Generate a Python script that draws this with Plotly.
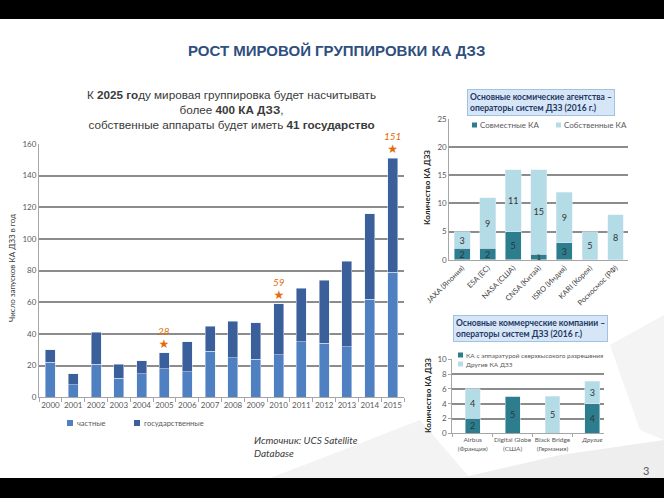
import plotly.graph_objects as go

# ---------------- data ----------------
years = [str(y) for y in range(2000, 2016)]
private_sats = [22, 8, 21, 12, 15, 18, 16, 29, 25, 24, 27, 35, 34, 32, 62, 79]
gov_sats = [8, 7, 20, 9, 8, 10, 19, 16, 23, 23, 32, 34, 40, 54, 54, 72]
highlight_years = ["2005", "2010", "2015"]

agencies = ["JAXA (Япония)", "ESA (ЕС)", "NASA (США)", "CNSA (Китай)",
            "ISRO (Индия)", "KARI (Корея)", "Роскосмос (РФ)"]
agency_joint = [2, 2, 5, 1, 3, 0, 0]
agency_own = [3, 9, 11, 15, 9, 5, 8]

companies = ["Airbus<br>(Франция)", "Digital Globe<br>(США)",
             "Black Bridge<br>(Германия)", "<i>Другие</i>"]
company_vhr = [2, 5, 0, 4]
company_other = [4, 0, 5, 3]

W, H = 664, 498
def px(x): return x / W
def py(y): return 1 - y / H

C_PRIV = "#4F81C2"
C_GOV = "#3A5F9B"
C_TEAL = "#2C7E8E"
C_AQUA = "#B4DCE6"
ORANGE = "#E36C0A"
FONT = "Lato"

fig = go.Figure()

def lbl(vals):
    return [str(v) if v else "" for v in vals]

in_font = dict(color="#333333", size=9, family=FONT)
bar_txt = dict(textposition="inside", insidetextanchor="middle", textangle=0,
               textfont=in_font, constraintext="none")

# ---- main chart ----
fig.add_trace(go.Bar(x=years, y=private_sats, name="частные", marker_color=C_PRIV,
                     width=0.44, xaxis="x", yaxis="y", showlegend=False))
fig.add_trace(go.Bar(x=years, y=gov_sats, name="государственные", marker_color=C_GOV,
                     width=0.44, xaxis="x", yaxis="y", showlegend=False))

# ---- agencies chart ----
fig.add_trace(go.Bar(x=agencies, y=agency_joint, name="Совместные КА", marker_color=C_TEAL,
                     width=0.62, xaxis="x2", yaxis="y2", showlegend=False,
                     text=lbl(agency_joint), **bar_txt))
fig.add_trace(go.Bar(x=agencies, y=agency_own, name="Собственные КА", marker_color=C_AQUA,
                     width=0.62, xaxis="x2", yaxis="y2", showlegend=False,
                     text=lbl(agency_own), **bar_txt))

# ---- companies chart ----
fig.add_trace(go.Bar(x=companies, y=company_vhr, name="КА с аппаратурой сверхвысокого разрешения",
                     marker_color=C_TEAL, width=0.375, xaxis="x3", yaxis="y3", showlegend=False,
                     text=lbl(company_vhr), **bar_txt))
fig.add_trace(go.Bar(x=companies, y=company_other, name="Другие КА ДЗЗ",
                     marker_color=C_AQUA, width=0.375, xaxis="x3", yaxis="y3", showlegend=False,
                     text=lbl(company_other), **bar_txt))

totals = [p + g for p, g in zip(private_sats, gov_sats)]
annotations = []
for yr in highlight_years:
    i = years.index(yr)
    t = totals[i]
    annotations.append(dict(
        x=i, y=t, xref="x", yref="y", showarrow=False, yanchor="bottom", yshift=0,
        text=f"<i>{t}</i><br><span style='font-size:12px;font-family:DejaVu Sans'>★</span>",
        font=dict(color=ORANGE, size=10, family=FONT)))

def ptxt(x, y, text, size, color="#595959", anchor="left", **kw):
    return dict(x=px(x), y=py(y), xref="paper", yref="paper", showarrow=False,
                xanchor=anchor, yanchor="middle", text=text,
                font=dict(size=size, color=color, family=kw.pop("family", FONT)), **kw)

annotations += [
    ptxt(336, 50, "<b>РОСТ МИРОВОЙ ГРУППИРОВКИ КА ДЗЗ</b>", 15, "#2F4F80", "center",
         family="Liberation Sans"),
    ptxt(231, 110, "К <b>2025 го</b>ду мировая группировка будет насчитывать<br>"
                   "более <b>400 КА ДЗЗ</b>,<br>"
                   "собственные аппараты будет иметь <b>41 государство</b>",
         11.7, "#3A3A3A", "center", family="Liberation Sans", align="center"),
    ptxt(12, 268, "Число запусков КА ДЗЗ в год", 8, "#404040", "center", textangle=-90),
    ptxt(252, 446, "<i>Источник: UCS Satellite<br>Database</i>", 10, "#404040", align="left"),
    ptxt(467, 102, "<b>Основные космические агентства –<br>операторы систем ДЗЗ (2016 г.)</b>",
         8.5, "#1F3864", align="left", bgcolor="#D6E6F6", bordercolor="#9DC3E6",
         borderwidth=1, borderpad=2),
    ptxt(453, 328, "<b>Основные коммерческие компании –<br>операторы систем ДЗЗ (2016 г.)</b>",
         8.5, "#1F3864", align="left", bgcolor="#D6E6F6", bordercolor="#9DC3E6",
         borderwidth=1, borderpad=2),
    ptxt(427, 188, "<b>Количество КА ДЗЗ</b>", 8, "#262626", "center", textangle=-90),
    ptxt(428, 396, "<b>Количество КА ДЗЗ</b>", 8, "#262626", "center", textangle=-90),
    ptxt(646, 470, "3", 11, "#595959", "center"),
    # manual legends
    ptxt(75, 423, "частные", 7.5),
    ptxt(142, 423, "государственные", 7.5),
    ptxt(478, 125, "Совместные КА", 8),
    ptxt(562, 125, "Собственные КА", 8),
    ptxt(464, 355, "КА с аппаратурой сверхвысокого разрешения", 6.5),
    ptxt(464, 364, "Другие КА ДЗЗ", 6.5),
]

def sq(x, y, s, color):
    return dict(type="rect", xref="paper", yref="paper", x0=px(x), x1=px(x + s),
                y0=py(y + s / 2), y1=py(y - s / 2), fillcolor=color, line_width=0)

shapes = [
    # faint decorative background
    dict(type="path", xref="paper", yref="paper", layer="below",
         path=f"M {px(270)} {py(478)} L {px(330)} {py(455)} L {px(420)} {py(420)} L {px(470)} {py(478)} Z",
         fillcolor="#F3F3F3", line_width=0),
    dict(type="path", xref="paper", yref="paper", layer="below",
         path=f"M {px(460)} {py(478)} L {px(560)} {py(455)} L {px(664)} {py(440)} L {px(664)} {py(478)} Z",
         fillcolor="#EEEEEE", line_width=0),
    dict(type="path", xref="paper", yref="paper", layer="below",
         path=f"M {px(610)} {py(345)} L {px(664)} {py(315)} L {px(664)} {py(440)} L {px(640)} {py(430)} Z",
         fillcolor="#F4F4F4", line_width=0),
    # legend swatches
    sq(67, 423, 6, C_PRIV), sq(134, 423, 6, C_GOV),
    sq(472, 125, 5, C_TEAL), sq(556, 125, 5, C_AQUA),
    sq(458, 355, 5, C_TEAL), sq(458, 364, 5, C_AQUA),
    # black letterbox bars
    dict(type="rect", xref="paper", yref="paper", x0=0, x1=1, y0=py(0), y1=py(19),
         fillcolor="black", line_width=0, layer="above"),
    dict(type="rect", xref="paper", yref="paper", x0=0, x1=1, y0=py(478), y1=py(498),
         fillcolor="black", line_width=0, layer="above"),
]

tick_font = dict(size=8, color="#595959", family=FONT)
GRID = "#8C8C8C"

fig.update_layout(
    width=W, height=H, margin=dict(l=0, r=0, t=0, b=0, autoexpand=False),
    paper_bgcolor="white", plot_bgcolor="rgba(0,0,0,0)",
    barmode="stack", showlegend=False,
    uniformtext=dict(minsize=8, mode="show"),
    font=dict(family=FONT),
    annotations=annotations, shapes=shapes,
    xaxis=dict(domain=[px(39), px(404)], type="category", tickfont=tick_font, tickangle=0,
               showline=True, linecolor="#A6A6A6", linewidth=1, ticks="outside",
               tickson="boundaries", ticklen=4, tickcolor="#A6A6A6", anchor="y",
               automargin=False, range=[-0.5, 15.5]),
    yaxis=dict(domain=[py(397.3), py(144)], range=[0, 160], dtick=20, tickfont=tick_font,
               showgrid=True, gridcolor=GRID, gridwidth=1.5, showline=True,
               linecolor="#A6A6A6", zeroline=False, anchor="x", automargin=False),
    xaxis2=dict(domain=[px(449.3), px(628.3)], type="category", tickangle=-45,
                tickfont=dict(size=7.5, color="#404040", family=FONT), anchor="y2",
                showline=True, linecolor="#A6A6A6", automargin=False, range=[-0.5, 6.5]),
    yaxis2=dict(domain=[py(259.7), py(119)], range=[0, 25], dtick=5, tickfont=tick_font,
                showgrid=False, showline=True, linecolor="#A6A6A6", zeroline=False,
                anchor="x2", automargin=False,
                minor=dict(tickvals=[5, 10, 15, 20], showgrid=True, gridcolor=GRID,
                           gridwidth=1.5, ticks="")),
    xaxis3=dict(domain=[px(452.3), px(604)], type="category", range=[-0.51, 3.29],
                tickangle=0, tickfont=dict(size=6.5, color="#595959", family=FONT), anchor="y3",
                showline=True, linecolor="#A6A6A6", ticks="outside", tickson="boundaries",
                ticklen=3, tickcolor="#A6A6A6", automargin=False),
    yaxis3=dict(domain=[py(433.3), py(359.3)], range=[0, 10], dtick=2, tickfont=tick_font,
                showgrid=False, showline=True, linecolor="#A6A6A6", zeroline=False,
                anchor="x3", ticks="outside", ticklen=3, tickcolor="#A6A6A6", automargin=False,
                minor=dict(tickvals=[2, 4, 6, 8], showgrid=True, gridcolor=GRID,
                           gridwidth=1.5, ticks="")),
)

fig.write_html("out.html")
